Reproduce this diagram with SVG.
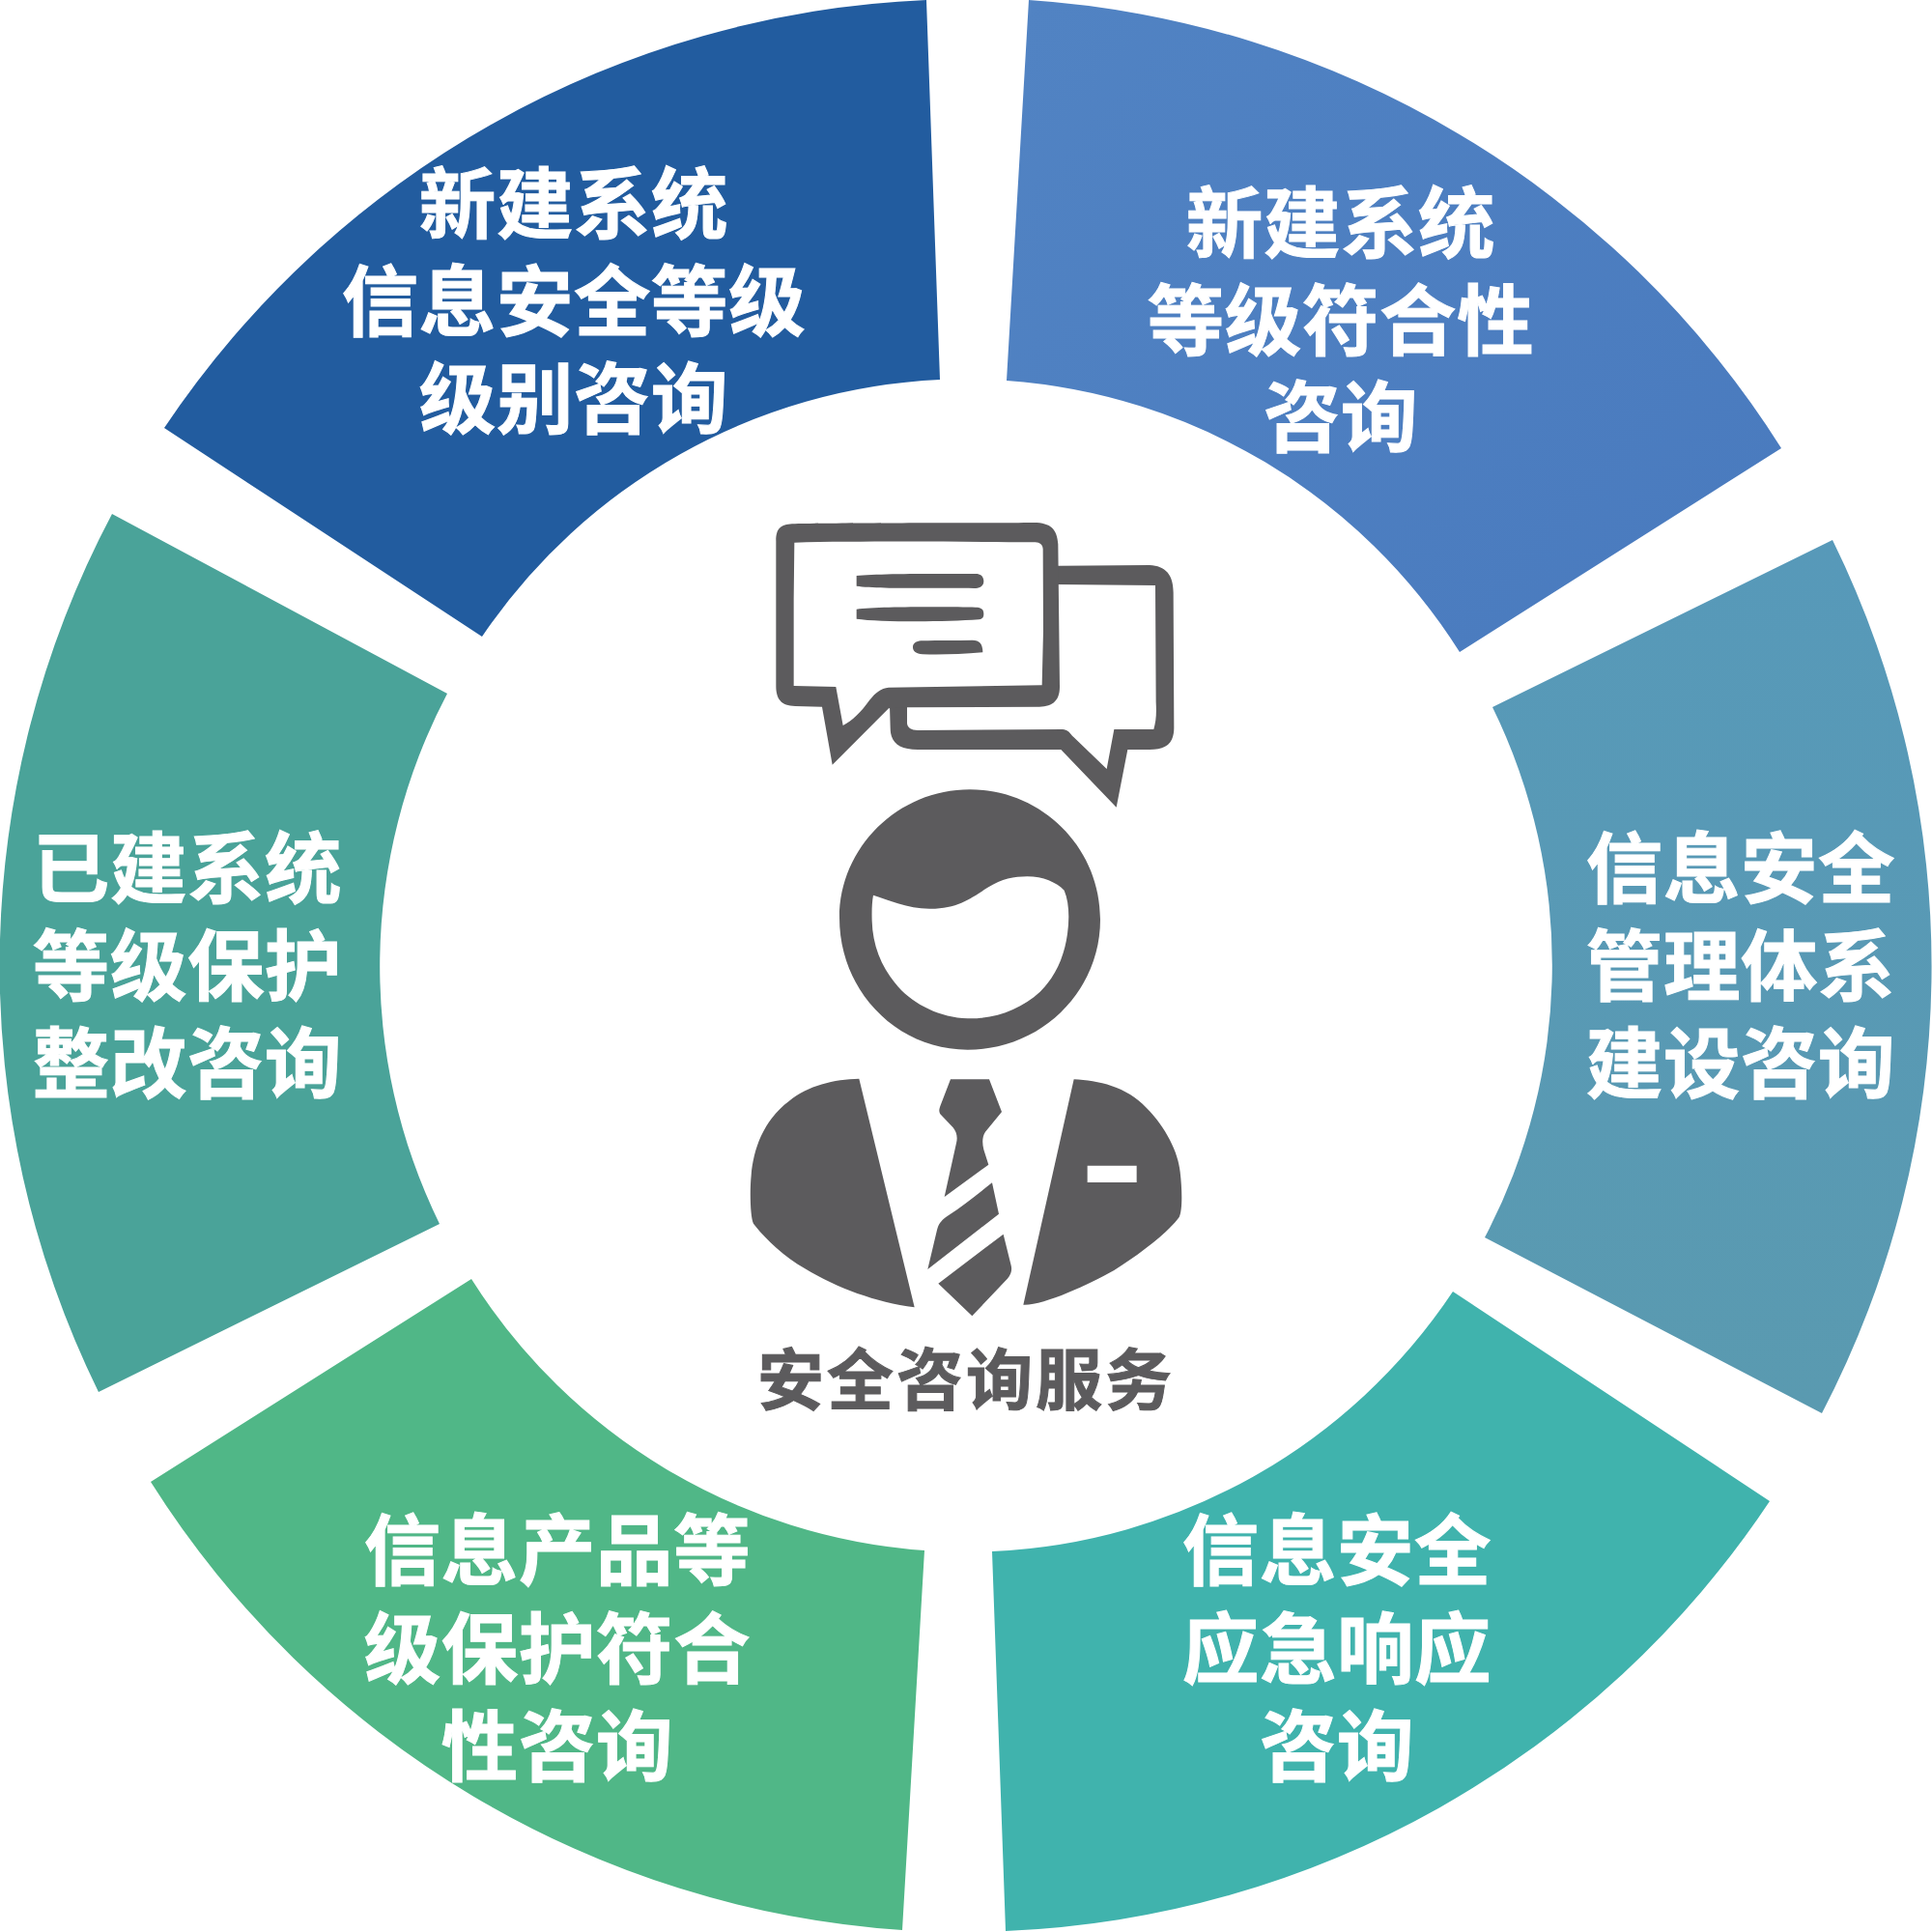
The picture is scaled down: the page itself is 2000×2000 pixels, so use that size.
<svg xmlns="http://www.w3.org/2000/svg" width="2000" height="2000" viewBox="0 0 2000 2000">
<style>
text{font-family:"Noto Sans CJK SC","Noto Sans",sans-serif;font-weight:700;text-anchor:middle}
.l{font-size:79.5px;fill:#fff;stroke:#fff;stroke-width:1px;letter-spacing:.6px}
.d{fill:#5c5b5d}
.c{stroke:#5c5b5d;stroke-width:1px;letter-spacing:3px}
</style>
<defs>
<linearGradient id="gTR" x1="1065" y1="0" x2="1844" y2="675" gradientUnits="userSpaceOnUse"><stop offset="0" stop-color="#5183c3"/><stop offset="1" stop-color="#497abe"/></linearGradient>
<linearGradient id="gR" x1="1700" y1="560" x2="1700" y2="1460" gradientUnits="userSpaceOnUse"><stop offset="0" stop-color="#5799b9"/><stop offset="1" stop-color="#5a9ab0"/></linearGradient>
</defs>
<rect width="2000" height="2000" fill="#fff"/>
<g id="sector-top-left"><path fill="#225c9f" d="M959 0 L973 393 A606 606 0 0 0 499 659 L170 443 A1000 1000 0 0 1 959 0Z"/>
<text class="l" y="240"><tspan x="594">新建系统</tspan><tspan x="594" y="341">信息安全等级</tspan><tspan x="594" y="442">级别咨询</tspan></text></g>
<g id="sector-top-right"><path fill="url(#gTR)" d="M1065 0 A1000 1000 0 0 1 1844 464 L1511 675 A606 606 0 0 0 1042 394Z"/>
<text class="l" y="260"><tspan x="1388">新建系统</tspan><tspan x="1388" y="361">等级符合性</tspan><tspan x="1388" y="461">咨询</tspan></text></g>
<g id="sector-right"><path fill="url(#gR)" d="M1897 559 A1000 1000 0 0 1 1886 1463 L1537 1281 A606 606 0 0 0 1545 732Z"/>
<text class="l" y="928"><tspan x="1802">信息安全</tspan><tspan x="1802" y="1029">管理体系</tspan><tspan x="1802" y="1130">建设咨询</tspan></text></g>
<g id="sector-bottom-right"><path fill="#40b3ad" d="M1504 1337 L1832 1554 A1000 1000 0 0 1 1041 1999 L1027 1606 A606 606 0 0 0 1504 1337Z"/>
<text class="l" y="1634"><tspan x="1384">信息安全</tspan><tspan x="1384" y="1736">应急响应</tspan><tspan x="1384" y="1837">咨询</tspan></text></g>
<g id="sector-bottom-left"><path fill="#50b787" d="M488 1324 A606 606 0 0 0 957 1605 L934 1998 A1000 1000 0 0 1 156 1534Z"/>
<text class="l" y="1634"><tspan x="577">信息产品等</tspan><tspan x="577" y="1736">级保护符合</tspan><tspan x="577" y="1837">性咨询</tspan></text></g>
<g id="sector-left"><path fill="#4aa399" d="M116 532 L463 718 A606 606 0 0 0 455 1267 L102 1441 A1000 1000 0 0 1 116 532Z"/>
<text class="l" y="928"><tspan x="194">已建系统</tspan><tspan x="194" y="1029">等级保护</tspan><tspan x="194" y="1130">整改咨询</tspan></text></g>
<g id="center-icon">
<g transform="translate(760,520) scale(.33333)" class="d">
<path d="M1010 197 L1290 195 C1340 197 1364 225 1364 280 L1366 700 C1366 750 1340 768 1290 768 L1222 768 L1187 947 L1015 768 L570 768 C510 768 485 745 485 700 L483 630 L537 630 L537 685 C537 700 550 708 570 708 L1020 705 C1035 707 1040 712 1050 725 L1157 828 L1180 705 L1303 705 C1310 680 1312 660 1310 620 L1308 258 L1000 255 L1000 197 Z"/>
<path fill-rule="evenodd" d="M180 67 C300 63 800 65 930 63 C985 63 1003 85 1006 130 L1011 570 C1012 620 985 635 940 635 L540 637 L480 640 L305 815 L273 635 L190 633 C145 632 130 610 130 570 L130 120 C130 80 145 70 180 67Z M187 125 C400 120 700 122 935 124 C950 125 958 132 959 145 L960 400 L956 568 L480 575 C455 578 440 590 420 615 C395 650 365 680 338 693 L316 573 L185 570 L185 300Z"/>
<path d="M380 228 C450 220 680 222 750 222 C770 222 775 235 775 245 C775 258 765 267 745 267 C650 265 450 270 380 260Z"/>
<path d="M380 332 C450 323 680 325 750 326 C770 326 775 335 775 347 C775 358 770 363 760 364 C650 372 450 372 380 362Z"/>
<path d="M580 430 C640 428 690 430 740 428 C762 428 772 440 772 466 C700 472 640 474 585 472 C565 470 555 462 555 450 C555 438 565 432 580 430Z"/>
</g>
<path class="d" fill-rule="evenodd" transform="translate(760,800) scale(.33333)" d="M732 52 C955 52 1137 232 1137 455 C1137 678 955 860 725 860 C505 860 327 678 327 450 C327 232 509 52 732 52Z M432 380 C480 395 540 423 610 422 C700 422 740 385 790 355 C830 330 870 322 910 322 C960 322 1000 340 1025 365 C1040 400 1042 450 1035 500 C1025 570 1000 630 950 680 C890 735 810 765 725 763 C640 760 560 720 510 665 C460 610 430 540 428 460 C427 430 428 400 432 380Z"/>
<g transform="translate(760,1090) scale(.33333)" class="d">
<path d="M388 80 L560 790 C440 775 320 730 220 670 C150 630 90 570 60 530 C50 510 48 430 53 380 C60 300 90 210 170 150 C230 100 310 82 388 80Z"/>
<path fill-rule="evenodd" d="M1055 82 C1130 85 1220 105 1280 170 C1340 230 1380 310 1385 370 C1392 430 1392 490 1382 510 C1350 555 1260 625 1180 675 C1100 720 960 785 898 782Z M1097 350 H1250 V402 H1097Z"/>
<path d="M672 82 H792 L831 183 L780 245 C770 260 770 280 775 300 L790 347 L653 447 L690 280 C695 260 690 245 680 232 L640 190 C635 180 637 175 640 165Z"/>
<path d="M801 403 L822 500 L601 672 L630 550 C635 530 645 518 665 505 C710 475 760 435 801 403Z"/>
<path d="M836 563 L860 660 C865 680 855 695 845 705 L739 817 L634 716Z"/>
</g>
<text class="d c" x="1000" y="1454" font-size="69">安全咨询服务</text>
</g>
</svg>
